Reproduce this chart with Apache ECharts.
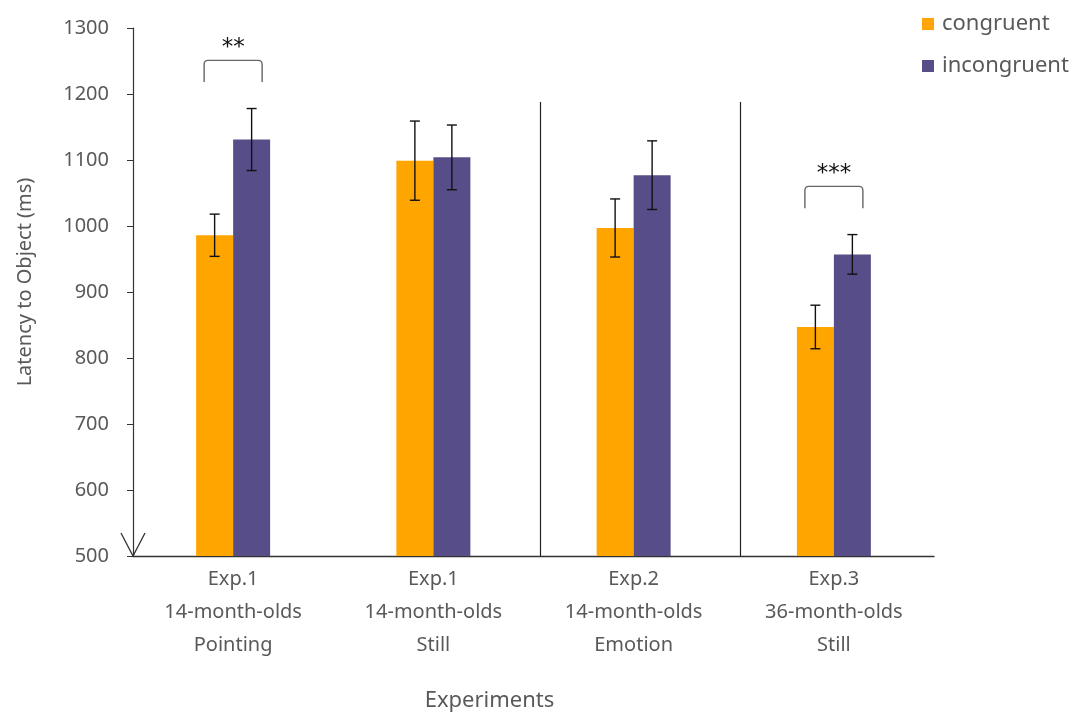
<!DOCTYPE html>
<html>
<head>
<meta charset="utf-8">
<script src="https://cdn.jsdelivr.net/npm/echarts@6/dist/echarts.min.js"></script>
<style>
  html, body { margin: 0; padding: 0; background: #ffffff; }
  #chart { width: 1081px; height: 717px; }
</style>
</head>
<body>
<div id="chart"></div>
<script>
// Experiment groups shown along the x axis
const categories = [
  'Exp.1\n14-month-olds\nPointing',
  'Exp.1\n14-month-olds\nStill',
  'Exp.2\n14-month-olds\nEmotion',
  'Exp.3\n36-month-olds\nStill'
];

// Mean latency to object (ms) and standard errors
const congruent = [986, 1099, 997, 847];
const incongruent = [1131, 1104, 1077, 957];
const congruentErr = [32, 60, 44, 33];
const incongruentErr = [47, 49, 52, 30];

// Y axis range
const yMin = 500;
const yMax = 1300;
const yStep = 100;

// Significant comparisons (group index and star label)
const significance = [
  { group: 0, stars: '**' },
  { group: 3, stars: '***' }
];

// Vertical dividers between experiment blocks (between groups i and i+1)
const dividers = [1, 2];
const dividerTop = 1188;

const TEXT = '#595959';
const ORANGE = '#FFA500';
const PURPLE = '#574E89';
const BAR_W = 37;

const chart = echarts.init(document.getElementById('chart'), null, { renderer: 'canvas' });

function errData(means, errs) {
  return means.map((m, i) => [i, m - errs[i], m + errs[i]]);
}

function errorBarRenderer(offset) {
  return function (params, api) {
    const i = api.value(0);
    const lo = api.coord([i, api.value(1)]);
    const hi = api.coord([i, api.value(2)]);
    const x = lo[0] + offset;
    const cap = 5;
    const style = { stroke: '#111', lineWidth: 1.4 };
    return {
      type: 'group',
      children: [
        { type: 'line', shape: { x1: x, y1: lo[1], x2: x, y2: hi[1] }, style },
        { type: 'line', shape: { x1: x - cap, y1: lo[1], x2: x + cap, y2: lo[1] }, style },
        { type: 'line', shape: { x1: x - cap, y1: hi[1], x2: x + cap, y2: hi[1] }, style }
      ]
    };
  };
}

// Bracket sits a fixed amount above the higher error bar of the pair
const bracketData = significance.map(s => {
  const g = s.group;
  const top = Math.max(congruent[g] + congruentErr[g], incongruent[g] + incongruentErr[g]);
  return [g, top + 40, top + 73, s.stars];
});

const option = {
  backgroundColor: '#ffffff',
  animation: false,
  textStyle: { fontFamily: 'Noto Sans, sans-serif' },
  grid: { left: 133, right: 147, top: 28, bottom: 156, containLabel: false },
  legend: {
    data: ['congruent', 'incongruent'],
    orient: 'vertical',
    left: 917,
    top: 8,
    icon: 'rect',
    itemWidth: 12,
    itemHeight: 12,
    itemGap: 20,
    textStyle: { color: TEXT, fontSize: 22, fontFamily: 'Noto Sans, sans-serif', padding: [0, 0, 0, 3] }
  },
  xAxis: {
    type: 'category',
    data: categories,
    name: 'Experiments',
    nameLocation: 'middle',
    nameGap: 134,
    nameTextStyle: { color: TEXT, fontSize: 22, padding: [0, 88, 0, 0] },
    axisLine: { lineStyle: { color: '#333', width: 1.4 } },
    axisTick: { show: false },
    axisLabel: { color: TEXT, fontSize: 20, lineHeight: 33, margin: 7 },
    splitLine: { show: false }
  },
  yAxis: {
    type: 'value',
    min: yMin,
    max: yMax,
    interval: yStep,
    name: 'Latency to Object (ms)',
    nameLocation: 'middle',
    nameGap: 98,
    nameTextStyle: { color: TEXT, fontSize: 20, padding: [0, 0, 0, 20] },
    axisLine: { show: true, lineStyle: { color: '#333', width: 1.2 } },
    axisTick: { show: true, inside: false, length: 6, lineStyle: { color: '#333' } },
    axisLabel: { color: TEXT, fontSize: 20, margin: 24, formatter: v => String(v) },
    splitLine: { show: false }
  },
  series: [
    {
      name: 'congruent',
      type: 'bar',
      data: congruent,
      barWidth: BAR_W,
      barGap: '0%',
      itemStyle: { color: ORANGE }
    },
    {
      name: 'incongruent',
      type: 'bar',
      data: incongruent,
      barWidth: BAR_W,
      barGap: '0%',
      itemStyle: { color: PURPLE }
    },
    {
      type: 'custom',
      name: 'congruent-err',
      data: errData(congruent, congruentErr),
      encode: { x: 0, y: [1, 2] },
      renderItem: errorBarRenderer(-BAR_W / 2),
      z: 10,
      silent: true
    },
    {
      type: 'custom',
      name: 'incongruent-err',
      data: errData(incongruent, incongruentErr),
      encode: { x: 0, y: [1, 2] },
      renderItem: errorBarRenderer(BAR_W / 2),
      z: 10,
      silent: true
    },
    {
      // significance brackets with stars
      type: 'custom',
      name: 'significance',
      data: bracketData,
      encode: { x: 0, y: [1, 2] },
      clip: false,
      silent: true,
      z: 10,
      renderItem: function (params, api) {
        const g = api.value(0);
        const lo = api.coord([g, api.value(1)]);
        const hi = api.coord([g, api.value(2)]);
        const x1 = lo[0] - 29, x2 = lo[0] + 29, r = 4;
        const yb = lo[1], yt = hi[1];
        const path = 'M' + x1 + ' ' + yb +
          ' L' + x1 + ' ' + (yt + r) +
          ' Q' + x1 + ' ' + yt + ' ' + (x1 + r) + ' ' + yt +
          ' L' + (x2 - r) + ' ' + yt +
          ' Q' + x2 + ' ' + yt + ' ' + x2 + ' ' + (yt + r) +
          ' L' + x2 + ' ' + yb;
        return {
          type: 'group',
          children: [
            { type: 'path', shape: { pathData: path }, style: { stroke: '#666', lineWidth: 1.4, fill: null } },
            {
              type: 'text',
              style: {
                text: bracketData[params.dataIndex][3],
                x: lo[0], y: yt - 12,
                align: 'center', verticalAlign: 'middle',
                fontSize: 23, fontFamily: 'DejaVu Sans, sans-serif', fill: '#111'
              }
            }
          ]
        };
      }
    },
    {
      // vertical dividers between experiment blocks
      type: 'custom',
      name: 'dividers',
      data: dividers.map(d => [d, yMin, dividerTop]),
      encode: { x: 0, y: [1, 2] },
      clip: false,
      silent: true,
      renderItem: function (params, api) {
        const i = api.value(0);
        const band = api.size([1, 0])[0];
        const bottom = api.coord([i, api.value(1)]);
        const top = api.coord([i, api.value(2)]);
        const x = Math.round(bottom[0] + band * 0.53) + 0.5;
        return { type: 'line', shape: { x1: x, y1: bottom[1], x2: x, y2: top[1] }, style: { stroke: '#222', lineWidth: 1.2 } };
      }
    },
    {
      // open arrowhead at the foot of the y axis
      type: 'custom',
      name: 'axis-arrow',
      data: [[0, yMin]],
      encode: { x: 0, y: 1 },
      clip: false,
      silent: true,
      z: 11,
      renderItem: function (params, api) {
        const x = params.coordSys.x;
        const y = api.coord([0, api.value(1)])[1];
        return {
          type: 'polyline',
          shape: { points: [[x - 12, y - 23], [x, y], [x + 12, y - 23]] },
          style: { stroke: '#333', lineWidth: 1.3, fill: null }
        };
      }
    }
  ]
};

chart.setOption(option);
</script>
</body>
</html>
